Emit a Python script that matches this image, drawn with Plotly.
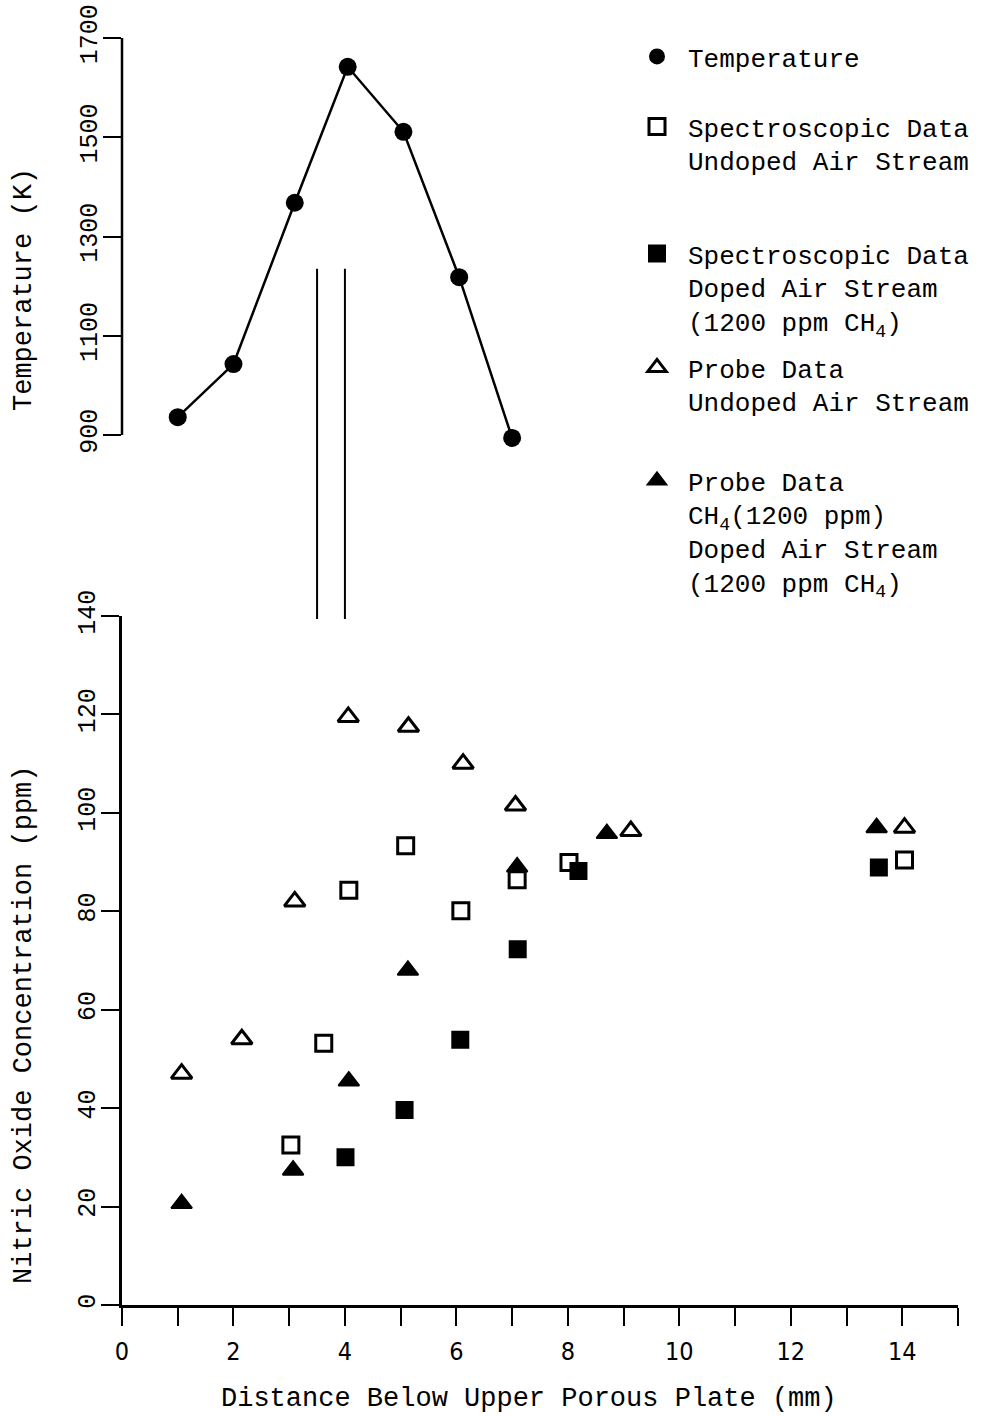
import plotly.graph_objects as go

# ---- Temperature profile (upper panel) ----
temp_x = [1.0, 2.0, 3.1, 4.05, 5.05, 6.05, 7.0]
temp_k = [936, 1043, 1368, 1642, 1511, 1218, 894]

# ---- Nitric oxide concentration (lower panel) ----
spec_undoped_x = [3.03, 3.62, 4.07, 5.09, 6.08, 7.09, 8.02, 14.04]
spec_undoped_ppm = [32.5, 53.2, 84.3, 93.3, 80.1, 86.4, 89.9, 90.4]

spec_doped_x = [4.01, 5.07, 6.07, 7.10, 8.19, 13.58]
spec_doped_ppm = [30.0, 39.6, 53.9, 72.3, 88.2, 88.9]

probe_undoped_x = [1.07, 2.15, 3.10, 4.06, 5.14, 6.12, 7.06, 9.13, 14.04]
probe_undoped_ppm = [47.0, 54.0, 82.0, 119.5, 117.5, 110.0, 101.5, 96.3, 97.0]

probe_doped_x = [1.07, 3.07, 4.07, 5.13, 7.09, 8.70, 13.54]
probe_doped_ppm = [20.6, 27.4, 45.5, 68.0, 89.0, 95.8, 97.0]

# flame-zone markers spanning the gap between the panels
flame_zone_x = [3.5, 4.0]
flame_zone_top_k = 1235
flame_zone_bottom_ppm = 139.4

x_ticks = [0, 2, 4, 6, 8, 10, 12, 14]
temp_ticks = [900, 1100, 1300, 1500, 1700]
ppm_ticks = [0, 20, 40, 60, 80, 100, 120, 140]

legend_labels = [
    "Temperature",
    "Spectroscopic Data<br>Undoped Air Stream",
    "Spectroscopic Data<br>Doped Air Stream<br>(1200 ppm CH<sub>4</sub>)",
    "Probe Data<br>Undoped Air Stream",
    "Probe Data<br>CH<sub>4</sub>(1200 ppm)<br>Doped Air Stream<br>(1200 ppm CH<sub>4</sub>)",
]

# ---- geometry ----
W, H = 992, 1416
M = dict(l=122, r=34, t=38, b=111)
plot_h = H - M["t"] - M["b"]
plot_w = W - M["l"] - M["r"]
x_range = [0, 15]
c_range = [0, 140]
t_axis = [900, 1700]          # extent of the drawn temperature scale
t_range = [888, 1700]         # view range (leaves room below the 900 K tick)
t_px = [435, 38]              # pixel rows of the 900 K and 1700 K ticks
bottom_domain = [0.0, 0.5438]

MONO = "Liberation Mono, Courier New, monospace"
NARROW = "Liberation Sans Narrow, DejaVu Sans Condensed, Arial Narrow, sans-serif"
INK = "black"


def px_to_paper_y(py):
    return (H - M["b"] - py) / plot_h


def px_to_paper_x(px):
    return (px - M["l"]) / plot_w


k_per_px = (t_axis[1] - t_axis[0]) / (t_px[0] - t_px[1])
top_domain = [px_to_paper_y(t_px[0] + (t_axis[0] - t_range[0]) / k_per_px), 1.0]


def temp_to_paper(k):
    return top_domain[0] + (k - t_range[0]) / (t_range[1] - t_range[0]) * (top_domain[1] - top_domain[0])


def ppm_to_paper(c):
    return bottom_domain[0] + (c - c_range[0]) / (c_range[1] - c_range[0]) * (bottom_domain[1] - bottom_domain[0])


fig = go.Figure()

# temperature curve
fig.add_trace(go.Scatter(
    x=temp_x, y=temp_k, xaxis="x2", yaxis="y2", mode="lines",
    line=dict(color=INK, width=2.5), showlegend=False,
))
fig.add_trace(go.Scatter(
    x=temp_x, y=temp_k, xaxis="x2", yaxis="y2", mode="markers",
    marker=dict(symbol="circle", size=18, color=INK),
    name=legend_labels[0], legend="legend", cliponaxis=False,
))

# NO concentration series
fig.add_trace(go.Scatter(
    x=spec_undoped_x, y=spec_undoped_ppm, mode="markers",
    marker=dict(symbol="square-open", size=16, color=INK, line=dict(width=3, color=INK)),
    name=legend_labels[1], legend="legend2", cliponaxis=False,
))
fig.add_trace(go.Scatter(
    x=spec_doped_x, y=spec_doped_ppm, mode="markers",
    marker=dict(symbol="square", size=16, color=INK, line=dict(width=2, color=INK)),
    name=legend_labels[2], legend="legend3", cliponaxis=False,
))
fig.add_trace(go.Scatter(
    x=probe_undoped_x, y=probe_undoped_ppm, mode="markers",
    marker=dict(symbol="triangle-up-open", size=18, color=INK, line=dict(width=3, color=INK)),
    name=legend_labels[3], legend="legend4", cliponaxis=False,
))
fig.add_trace(go.Scatter(
    x=probe_doped_x, y=probe_doped_ppm, mode="markers",
    marker=dict(symbol="triangle-up", size=18, color=INK, line=dict(width=2, color=INK)),
    name=legend_labels[4], legend="legend5", cliponaxis=False,
))

shapes = [
    # temperature scale spine, 900 K to 1700 K
    dict(type="line", xref="paper", yref="paper", x0=0, x1=0,
         y0=temp_to_paper(t_axis[0]), y1=temp_to_paper(t_axis[1]),
         line=dict(color=INK, width=2.5)),
]
for xz in flame_zone_x:
    shapes.append(dict(
        type="line", xref="x", yref="paper", x0=xz, x1=xz,
        y0=ppm_to_paper(flame_zone_bottom_ppm), y1=temp_to_paper(flame_zone_top_k),
        line=dict(color=INK, width=2),
    ))

axis_common = dict(
    showgrid=False, zeroline=False, linecolor=INK, linewidth=2.5,
    ticks="outside", ticklen=18, tickwidth=2, tickcolor=INK,
)

# legend blocks: first text line centre (px) for each entry
legend_line_px = [57, 127, 254, 368, 481]
legend_text_left_px = 688
legend_item_width = 52
legend_layouts = {}
for i, cy in enumerate(legend_line_px):
    key = "legend" if i == 0 else f"legend{i + 1}"
    legend_layouts[key] = dict(
        x=px_to_paper_x(legend_text_left_px - legend_item_width - 10), xanchor="left",
        y=px_to_paper_y(cy - 24), yanchor="top",
        bgcolor="rgba(0,0,0,0)", borderwidth=0, valign="top",
        font=dict(family=MONO, size=26, color=INK), itemwidth=legend_item_width,
    )

annotations = [
    dict(text="Temperature (K)", xref="paper", yref="paper",
         x=px_to_paper_x(24), y=px_to_paper_y(290), textangle=-90,
         showarrow=False, xanchor="center", yanchor="middle",
         font=dict(family=MONO, size=27, color=INK)),
    dict(text="Nitric Oxide Concentration (ppm)", xref="paper", yref="paper",
         x=px_to_paper_x(24), y=px_to_paper_y(1025), textangle=-90,
         showarrow=False, xanchor="center", yanchor="middle",
         font=dict(family=MONO, size=27, color=INK)),
    dict(text="Distance Below Upper Porous Plate (mm)", xref="paper", yref="paper",
         x=px_to_paper_x(529), y=px_to_paper_y(1399),
         showarrow=False, xanchor="center", yanchor="middle",
         font=dict(family=MONO, size=27, color=INK)),
]

fig.update_layout(
    width=W, height=H, margin=M, template="none",
    paper_bgcolor="white", plot_bgcolor="white",
    xaxis=dict(
        **axis_common, showline=True, range=x_range, domain=[0, 1], anchor="y",
        tickvals=x_ticks, ticktext=[str(v) for v in x_ticks],
        tickfont=dict(family=NARROW, size=25, color=INK), ticklabelstandoff=4,
        minor=dict(dtick=1, ticks="outside", ticklen=18, tickwidth=2, tickcolor=INK),
    ),
    yaxis=dict(
        **axis_common, showline=True, range=c_range, domain=bottom_domain, anchor="x",
        tickvals=ppm_ticks, tickangle=-90, ticklabelstandoff=-4,
        tickfont=dict(family=MONO, size=25, color=INK),
    ),
    xaxis2=dict(range=x_range, domain=[0, 1], anchor="y2", visible=False, matches="x"),
    yaxis2=dict(
        **axis_common, showline=False, range=t_range, domain=top_domain, anchor="x2",
        tickvals=temp_ticks, tickangle=-90, ticklabelstandoff=-4,
        tickfont=dict(family=MONO, size=25, color=INK),
    ),
    shapes=shapes,
    annotations=annotations,
    **legend_layouts,
)

fig.write_html("out.html")
